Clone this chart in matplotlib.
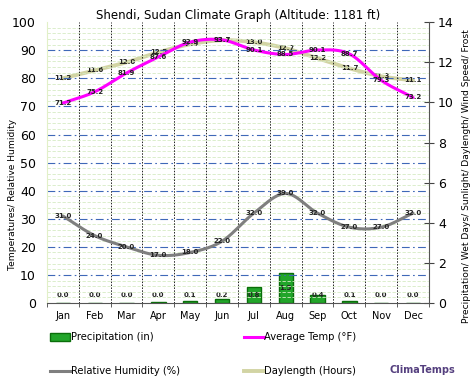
import numpy as np
import matplotlib
matplotlib.use("Agg")
import matplotlib.pyplot as plt
from matplotlib.patches import Rectangle
from matplotlib.lines import Line2D

months = ['Jan', 'Feb', 'Mar', 'Apr', 'May', 'Jun', 'Jul', 'Aug', 'Sep', 'Oct', 'Nov', 'Dec']
avg_temp = [71.2, 75.2, 81.9, 87.6, 92.9, 93.7, 90.1, 88.5, 90.1, 88.7, 79.3, 73.2]
humidity = [31.0, 24.0, 20.0, 17.0, 18.0, 22.0, 32.0, 39.0, 32.0, 27.0, 27.0, 32.0]
daylength = [11.2, 11.6, 12.0, 12.5, 12.9, 13.1, 13.0, 12.7, 12.2, 11.7, 11.3, 11.1]
precip = [0.0, 0.0, 0.0, 0.04, 0.1, 0.2, 0.8, 1.5, 0.4, 0.1, 0.0, 0.0]
precip_lbl = [0.0, 0.0, 0.0, 0.0, 0.1, 0.2, 0.8, 1.5, 0.4, 0.1, 0.0, 0.0]

x = np.arange(12)


def smooth(xs, ys, n=20):
    # catmull-rom curve through the points, only for drawing
    ys = np.asarray(ys, float)
    p = np.concatenate([[2 * ys[0] - ys[1]], ys, [2 * ys[-1] - ys[-2]]])
    out_x, out_y = [], []
    for i in range(len(ys) - 1):
        t = np.linspace(0, 1, n, endpoint=False)
        p0, p1, p2, p3 = p[i], p[i + 1], p[i + 2], p[i + 3]
        yy = 0.5 * (2 * p1 + (-p0 + p2) * t + (2 * p0 - 5 * p1 + 4 * p2 - p3) * t ** 2
                    + (-p0 + 3 * p1 - 3 * p2 + p3) * t ** 3)
        out_x.extend(xs[i] + t)
        out_y.extend(yy)
    out_x.append(xs[-1])
    out_y.append(ys[-1])
    return np.array(out_x), np.array(out_y)


fig = plt.figure(figsize=(4.74, 3.89), dpi=100)
ax = fig.add_axes([0.099, 0.221, 0.806, 0.722])
ax2 = ax.twinx()

ax.set_xlim(-0.5, 11.5)
ax.set_ylim(0, 100)
ax2.set_ylim(0, 14)

# grid
for v in np.arange(2, 100, 2):
    if v % 10:
        ax.axhline(v, color='#d6ebc4', lw=0.6, ls=(0, (4, 2)), zorder=0)
for v in range(10, 100, 10):
    ax.axhline(v, color='#3f68b8', lw=0.8, ls=(0, (7, 3, 1.5, 3)), zorder=0)
for v in np.arange(0.5, 11.5, 1):
    ax.axvline(v, color='#222222', lw=0.7, ls=(0, (1.5, 1.5)), zorder=0)

# precipitation bars on right scale
ax2.bar(x, precip, width=0.45, color='#22a52a', edgecolor='#0a6e0a', lw=1.0, zorder=2)
for i in range(12):
    ax2.text(x[i], max(precip[i] / 2, 0.42), '%.1f' % precip_lbl[i], ha='center', va='center',
             fontsize=5, fontweight='bold', color='#222222', zorder=6)

sx, sy = smooth(x, humidity)
ax.plot(sx, sy, color='#7f7f7f', lw=2.2, zorder=3, solid_capstyle='round')
sx, sy = smooth(x, daylength)
ax2.plot(sx, sy, color='#d2d4a4', lw=2.8, zorder=3, solid_capstyle='round')
sx, sy = smooth(x, avg_temp)
ax.plot(sx, sy, color='#ff00ff', lw=2.2, zorder=4, solid_capstyle='round')

for i in range(12):
    ax.text(x[i], humidity[i], '%.1f' % humidity[i], ha='center', va='center',
            fontsize=5, fontweight='bold', color='#222222', zorder=6)
    ax.text(x[i], avg_temp[i], '%.1f' % avg_temp[i], ha='center', va='center',
            fontsize=5, fontweight='bold', color='#222222', zorder=6)
    ax2.text(x[i], daylength[i], '%.1f' % daylength[i], ha='center', va='center',
             fontsize=5, fontweight='bold', color='#222222', zorder=6)

ax.set_zorder(ax2.get_zorder() + 1)
ax.patch.set_visible(False)

ax.set_xticks(x)
ax.set_xticklabels(months, fontsize=7)
ax.set_xticks(np.arange(-0.5, 12, 1), minor=True)
ax.tick_params(axis='x', which='major', length=0, pad=6)
ax.tick_params(axis='x', which='minor', length=3, color='#444444')
ax.set_yticks(range(0, 101, 10))
ax.tick_params(axis='y', length=0, labelsize=9, pad=8)
ax2.set_yticks(range(0, 15, 2))
ax2.tick_params(axis='y', labelsize=9, direction='inout', length=7, color='#444444', pad=3)

ax.spines['top'].set_visible(False)
ax2.spines['top'].set_visible(False)
ax.spines['left'].set_color('#e2f0c8')
ax2.spines['left'].set_visible(False)
ax.spines['right'].set_visible(False)
ax2.spines['right'].set_color('#555555')
ax.spines['bottom'].set_color('#555555')
ax2.spines['bottom'].set_visible(False)

ax.set_ylabel('Temperatures/ Relative Humidity', fontsize=6.6)
ax.yaxis.set_label_coords(-0.078, 0.388)
ax2.set_ylabel('Precipitation/ Wet Days/ Sunlight/ Daylength/ Wind Speed/ Frost', fontsize=6.6)
ax2.yaxis.set_label_coords(1.086, 0.452)
ax.set_title('Shendi, Sudan Climate Graph (Altitude: 1181 ft)', fontsize=8.5, pad=1)

# legend drawn in figure coordinates
fig.add_artist(Rectangle((0.105, 0.124), 0.043, 0.02, transform=fig.transFigure,
                         facecolor='#22a52a', edgecolor='#0a6e0a', lw=1.0))
fig.text(0.15, 0.134, 'Precipitation (in)', fontsize=7.2, va='center')
fig.add_artist(Line2D([0.515, 0.558], [0.134, 0.134], transform=fig.transFigure,
                      color='#ff00ff', lw=2.2))
fig.text(0.558, 0.134, 'Average Temp (°F)', fontsize=7.2, va='center')
fig.add_artist(Line2D([0.105, 0.148], [0.047, 0.047], transform=fig.transFigure,
                      color='#7f7f7f', lw=2.2))
fig.text(0.15, 0.047, 'Relative Humidity (%)', fontsize=7.2, va='center')
fig.add_artist(Line2D([0.515, 0.558], [0.047, 0.047], transform=fig.transFigure,
                      color='#d2d4a4', lw=2.8))
fig.text(0.558, 0.047, 'Daylength (Hours)', fontsize=7.2, va='center')
fig.text(0.822, 0.05, 'ClimaTemps', fontsize=7, fontweight='bold', color='#55407f', va='center')

fig.savefig('out.png', dpi=100)
